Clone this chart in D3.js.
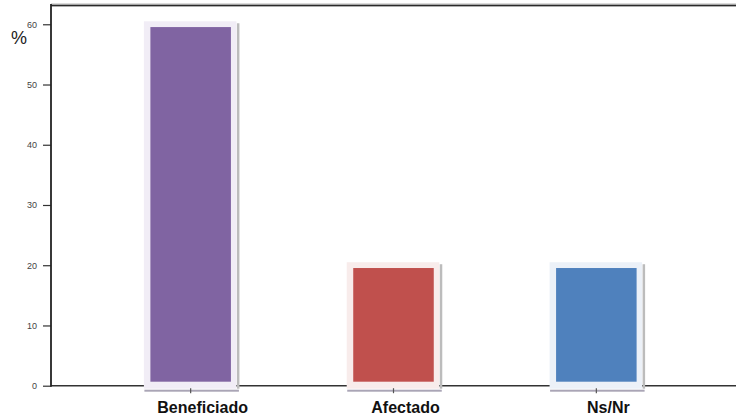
<!DOCTYPE html>
<html>
<head>
<meta charset="utf-8">
<script src="https://cdn.jsdelivr.net/npm/d3@7"></script>
<style>
html,body{margin:0;padding:0;background:#fff;}
svg{display:block;}
</style>
</head>
<body>
<svg id="chart" width="736" height="416"></svg>
<script>
const categories = ["Beneficiado", "Afectado", "Ns/Nr"];
const values = [60, 20, 20];
const barColors = ["#8064a2", "#c0504d", "#4f81bd"];
const frameColors = ["#f1edf6", "#f8eceb", "#ecf1f8"];
const yTicks = [0, 10, 20, 30, 40, 50, 60];
const yLabel = "%";

const svg = d3.select("#chart");
const mLeft = 51, mRight = 736, mTop = 5;

const y = d3.scaleLinear().domain([0, 63.2]).range([385.7, mTop]);
const x = d3.scaleBand().domain(categories).range([mLeft, mRight])
  .paddingInner(0.603).paddingOuter(0.49);

// top border
svg.append("line").attr("x1", mLeft).attr("x2", mRight).attr("y1", mTop).attr("y2", mTop)
  .attr("stroke", "#cfcfcf").attr("stroke-width", 3.5);
svg.append("line").attr("x1", mLeft).attr("x2", mRight).attr("y1", mTop + 0.5).attr("y2", mTop + 0.5)
  .attr("stroke", "#2a2a2a").attr("stroke-width", 1.6);

// bottom axis line
svg.append("line").attr("x1", mLeft).attr("x2", mRight).attr("y1", y(0)).attr("y2", y(0))
  .attr("stroke", "#333").attr("stroke-width", 1.6);

// bars with frames
const g = svg.append("g");
categories.forEach((c, i) => {
  const bx = x(c), bw = x.bandwidth();
  const yt = y(values[i]), yb = y(0);
  g.append("rect").attr("x", bx - 6.5).attr("y", yt - 3).attr("width", bw + 12).attr("height", yb - yt + 6)
    .attr("fill", frameColors[i]);
  g.append("rect").attr("x", bx + bw + 6).attr("y", yt - 1).attr("width", 2.5).attr("height", yb - yt + 4)
    .attr("fill", "#bcbcbc");
  g.append("rect").attr("x", bx - 6).attr("y", yb + 4).attr("width", bw + 14).attr("height", 2)
    .attr("fill", "#aaa5b6");
  g.append("line").attr("x1", bx + bw / 2).attr("x2", bx + bw / 2).attr("y1", yb + 2.5).attr("y2", yb + 7.5)
    .attr("stroke", "#555").attr("stroke-width", 1.2);
  g.append("rect").attr("x", bx).attr("y", yt + 2.8).attr("width", bw).attr("height", yb - yt - 6.8)
    .attr("fill", barColors[i]);
});

// left axis
const yAxis = d3.axisLeft(y).tickValues(yTicks).tickSize(8).tickPadding(6);
const ya = svg.append("g").attr("transform", `translate(${mLeft},0)`).call(yAxis);
ya.select(".domain").remove();
ya.selectAll(".tick line").attr("stroke", "#333").attr("stroke-width", 1.2);
ya.selectAll(".tick text").attr("font-family", "Liberation Sans, Arial, sans-serif")
  .attr("font-size", 9).attr("fill", "#444");
svg.append("line").attr("x1", mLeft).attr("x2", mLeft).attr("y1", mTop - 1).attr("y2", y(0) + 1)
  .attr("stroke", "#222").attr("stroke-width", 1.8);

// % label
svg.append("text").attr("x", 11).attr("y", 44).text(yLabel)
  .attr("font-family", "Liberation Sans, Arial, sans-serif").attr("font-size", 18).attr("fill", "#222");

// category labels
svg.append("g").selectAll("text").data(categories).join("text")
  .attr("x", d => x(d) + x.bandwidth() / 2 + 12)
  .attr("y", 413)
  .attr("text-anchor", "middle")
  .attr("font-family", "Liberation Sans, Arial, sans-serif")
  .attr("font-weight", "bold").attr("font-size", 16).attr("fill", "#111")
  .text(d => d);
</script>
</body>
</html>
